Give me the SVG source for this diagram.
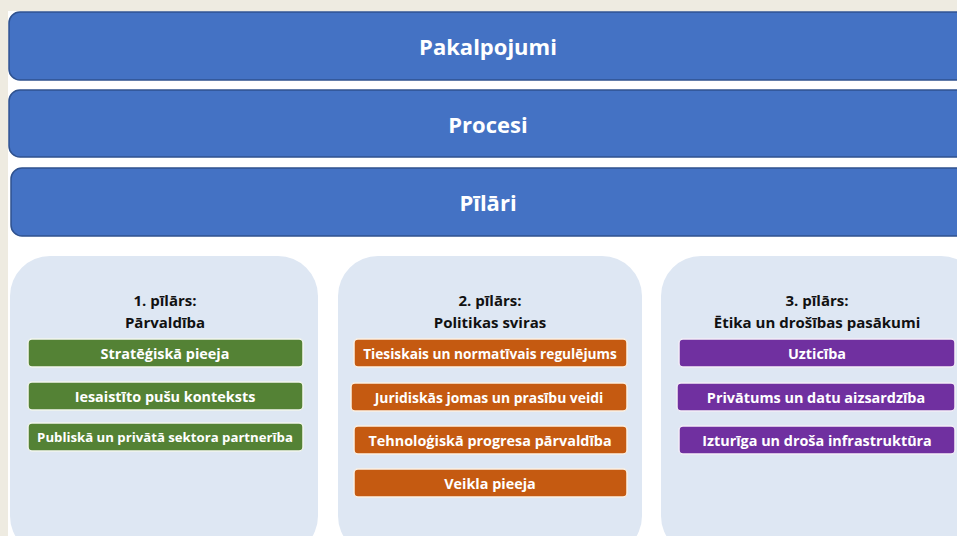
<svg xmlns="http://www.w3.org/2000/svg" width="957" height="536" viewBox="0 0 957 536">
<style>
.bar{fill:#4472c4;stroke:#2f528f;stroke-width:1.5}
.panel{fill:#dee7f3}
.g{fill:#548235;stroke:#f2f6ee;stroke-width:1.5}
.o{fill:#c55a11;stroke:#fbf1e4;stroke-width:1.5}
.p{fill:#7030a0;stroke:#f3eef8;stroke-width:1.5}
text{font-family:"Open Sans","Noto Sans","Liberation Sans",sans-serif;font-weight:bold;text-anchor:middle;dominant-baseline:central}
.bt{fill:#ffffff;font-size:22px}
.ht{fill:#111111;font-size:15px}
.st{fill:#ffffff;font-size:14.4px}
</style>
<rect x="0" y="0" width="957" height="536" fill="#ffffff"/>
<rect x="0" y="0" width="957" height="11" fill="#eeebe1"/>
<rect x="0" y="0" width="8" height="536" fill="#eeebe1"/>
<g id="pakalpojumi"><rect class="bar" x="9" y="12" width="960" height="68" rx="11"/><text class="bt" x="488" y="46">Pakalpojumi</text></g>
<g id="procesi"><rect class="bar" x="9" y="90" width="960" height="67" rx="11"/><text class="bt" x="488" y="124">Procesi</text></g>
<g id="pilari"><rect class="bar" x="11" y="168" width="958" height="68" rx="11"/><text class="bt" x="488" y="202">Pīlāri</text></g>
<g id="pilars1">
<rect class="panel" x="10" y="256" width="308" height="300" rx="40"/>
<text class="ht" x="165" y="300">1. pīlārs:</text>
<text class="ht" x="165" y="322">Pārvaldība</text>
</g>
<g id="pilars2">
<rect class="panel" x="338" y="256" width="304" height="300" rx="40"/>
<text class="ht" x="490" y="300">2. pīlārs:</text>
<text class="ht" x="490" y="322">Politikas sviras</text>
</g>
<g id="pilars3">
<rect class="panel" x="661" y="256" width="320" height="300" rx="40"/>
<text class="ht" x="817" y="300">3. pīlārs:</text>
<text class="ht" x="817" y="322">Ētika un drošības pasākumi</text>
</g>
<g id="g1"><rect class="g" x="28" y="339" width="275" height="28" rx="4"/><text class="st" x="165" y="353">Stratēģiskā pieeja</text></g>
<g id="g2"><rect class="g" x="28" y="382" width="275" height="28" rx="4"/><text class="st" x="165" y="396">Iesaistīto pušu konteksts</text></g>
<g id="g3"><rect class="g" x="28" y="423" width="275" height="28" rx="4"/><text class="st" x="165" y="437" style="font-size:13.2px">Publiskā un privātā sektora partnerība</text></g>
<g id="o1"><rect class="o" x="354" y="339" width="273" height="28" rx="4"/><text class="st" x="490" y="353" style="font-size:13.7px">Tiesiskais un normatīvais regulējums</text></g>
<g id="o2"><rect class="o" x="351" y="383" width="276" height="28" rx="4"/><text class="st" x="489" y="397" style="font-size:13.9px">Juridiskās jomas un prasību veidi</text></g>
<g id="o3"><rect class="o" x="354" y="426" width="273" height="28" rx="4"/><text class="st" x="490" y="440">Tehnoloģiskā progresa pārvaldība</text></g>
<g id="o4"><rect class="o" x="354" y="469" width="273" height="28" rx="4"/><text class="st" x="490" y="483">Veikla pieeja</text></g>
<g id="p1"><rect class="p" x="679" y="339" width="276" height="28" rx="4"/><text class="st" x="817" y="353">Uzticība</text></g>
<g id="p2"><rect class="p" x="677" y="383" width="278" height="28" rx="4"/><text class="st" x="816" y="397">Privātums un datu aizsardzība</text></g>
<g id="p3"><rect class="p" x="679" y="426" width="276" height="28" rx="4"/><text class="st" x="817" y="440">Izturīga un droša infrastruktūra</text></g>
<g id="connectors"></g>
</svg>
